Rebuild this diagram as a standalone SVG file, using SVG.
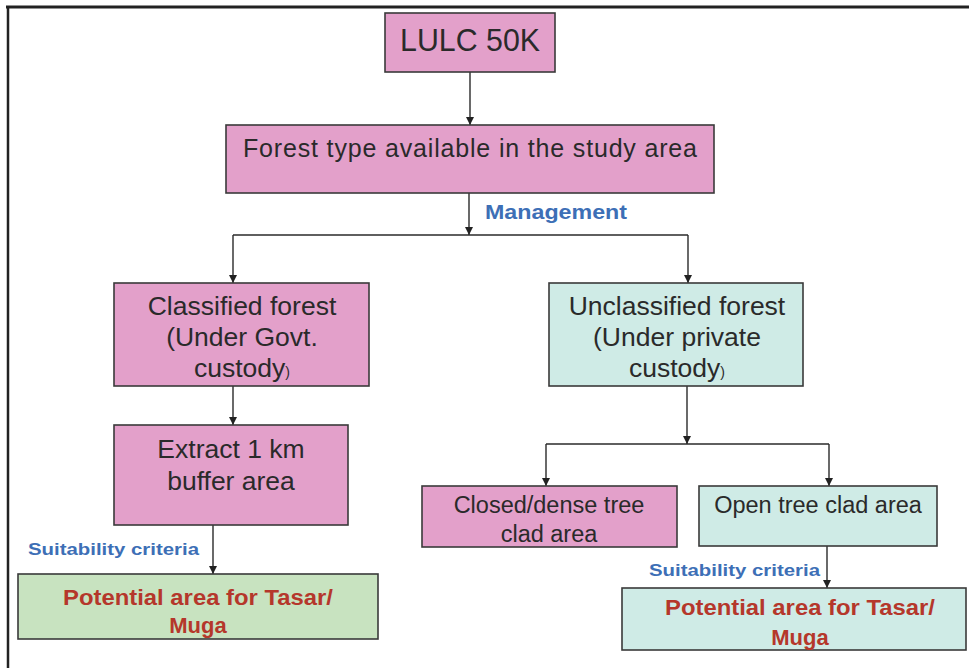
<svg xmlns="http://www.w3.org/2000/svg" width="969" height="668" viewBox="0 0 969 668">
<defs>
<marker id="ah" viewBox="0 0 10 10" refX="10" refY="5" markerWidth="8" markerHeight="8" markerUnits="userSpaceOnUse" orient="auto">
<path d="M0,0 L10,5 L0,10 z" fill="#222"/>
</marker>
<style>
.box{stroke:#3a3a3a;stroke-width:1.6}
.pink{fill:#e3a0ca}
.cyan{fill:#cfebe6}
.green{fill:#c8e3c0}
.t{font-family:"Liberation Sans",Arial,sans-serif;fill:#2a2a2a;text-anchor:middle}
.lab{font-family:"Liberation Sans",Arial,sans-serif;font-weight:bold;fill:#3d6fb6}
.red{font-family:"Liberation Sans",Arial,sans-serif;font-weight:bold;fill:#b5372b;text-anchor:middle;font-size:22px}
.c{stroke:#2a2a2a;stroke-width:1.4;fill:none}
.ca{stroke:#2a2a2a;stroke-width:1.4;fill:none;marker-end:url(#ah)}
</style>
</defs>
<rect width="969" height="668" fill="#ffffff"/>
<g id="frame">
<line x1="6" y1="7" x2="969" y2="7" stroke="#222" stroke-width="3"/>
<line x1="8" y1="6" x2="8" y2="668" stroke="#222" stroke-width="2.5"/>
</g>
<g id="connectors">
<line class="ca" x1="470" y1="72" x2="470" y2="125"/>
<line class="ca" x1="469" y1="193" x2="469" y2="235"/>
<polyline class="c" points="233,235 688,235"/>
<line class="ca" x1="233" y1="235" x2="233" y2="283"/>
<line class="ca" x1="688" y1="235" x2="688" y2="283"/>
<line class="ca" x1="233" y1="386" x2="233" y2="425"/>
<line class="ca" x1="213" y1="525" x2="213" y2="574"/>
<line class="ca" x1="687" y1="386" x2="687" y2="444"/>
<polyline class="c" points="546,444 829,444"/>
<line class="ca" x1="546" y1="444" x2="546" y2="486"/>
<line class="ca" x1="829" y1="444" x2="829" y2="486"/>
<line class="ca" x1="827" y1="546" x2="827" y2="588"/>
</g>
<g id="lulc">
<rect class="box pink" x="385" y="13" width="170" height="59"/>
<text class="t" x="470" y="51" font-size="31" textLength="140" lengthAdjust="spacingAndGlyphs">LULC 50K</text>
</g>
<g id="forest-type">
<rect class="box pink" x="226" y="125" width="488" height="68"/>
<text class="t" x="470" y="157" font-size="25" textLength="454" lengthAdjust="spacing">Forest type available in the study area</text>
</g>
<g id="management-label">
<text class="lab" x="485" y="219" font-size="21" textLength="142" lengthAdjust="spacingAndGlyphs">Management</text>
</g>
<g id="classified">
<rect class="box pink" x="114" y="283" width="255" height="103"/>
<text class="t" x="242" y="315" font-size="26.5">Classified forest</text>
<text class="t" x="242" y="346" font-size="26.5">(Under Govt.</text>
<text class="t" x="242" y="377" font-size="26.5">custody<tspan font-size="14">)</tspan></text>
</g>
<g id="unclassified">
<rect class="box cyan" x="549" y="283" width="254" height="103"/>
<text class="t" x="677" y="315" font-size="26.5">Unclassified forest</text>
<text class="t" x="677" y="346" font-size="26.5">(Under private</text>
<text class="t" x="677" y="377" font-size="26.5">custody<tspan font-size="14">)</tspan></text>
</g>
<g id="extract">
<rect class="box pink" x="114" y="425" width="234" height="100"/>
<text class="t" x="231" y="458" font-size="26.5">Extract 1 km</text>
<text class="t" x="231" y="490" font-size="26.5">buffer area</text>
</g>
<g id="closed">
<rect class="box pink" x="422" y="486" width="255" height="61"/>
<text class="t" x="549" y="513" font-size="23.5">Closed/dense tree</text>
<text class="t" x="549" y="542" font-size="23.5">clad area</text>
</g>
<g id="open">
<rect class="box cyan" x="699" y="486" width="238" height="60"/>
<text class="t" x="818" y="513" font-size="23.5">Open tree clad area</text>
</g>
<g id="suit-left">
<text class="lab" x="28" y="555" font-size="17" textLength="171" lengthAdjust="spacingAndGlyphs">Suitability criteria</text>
</g>
<g id="suit-right">
<text class="lab" x="649" y="576" font-size="17" textLength="171" lengthAdjust="spacingAndGlyphs">Suitability criteria</text>
</g>
<g id="potential-left">
<rect class="box green" x="18" y="574" width="360" height="65"/>
<text class="red" x="198" y="605" textLength="270" lengthAdjust="spacingAndGlyphs">Potential area for Tasar/</text>
<text class="red" x="198" y="633">Muga</text>
</g>
<g id="potential-right">
<rect class="box cyan" x="622" y="588" width="344" height="62"/>
<text class="red" x="800" y="615" textLength="270" lengthAdjust="spacingAndGlyphs">Potential area for Tasar/</text>
<text class="red" x="800" y="645">Muga</text>
</g>
</svg>
